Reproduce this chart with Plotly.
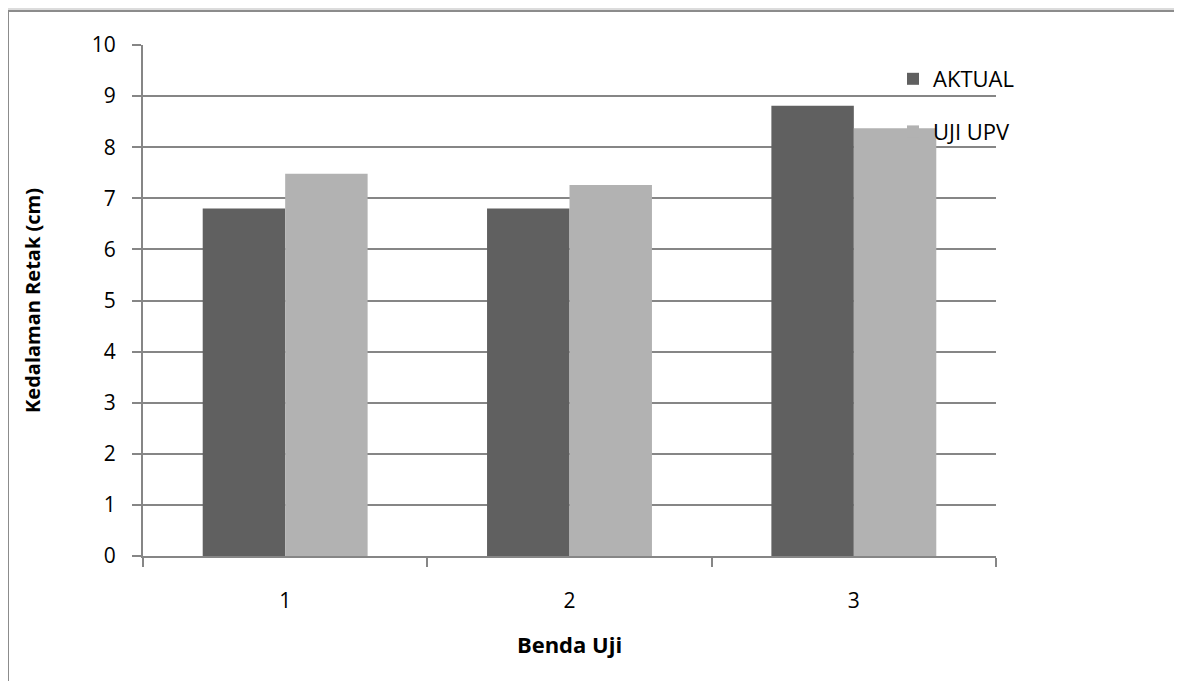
import plotly.graph_objects as go

categories = ["1", "2", "3"]
aktual = [6.8, 6.8, 8.81]
uji_upv = [7.48, 7.26, 8.37]
y_ticks = [0, 1, 2, 3, 4, 5, 6, 7, 8, 9, 10]

FONT = "Open Sans"
GRID = "#868686"
FS = 21

fig = go.Figure()
fig.add_trace(go.Bar(x=categories, y=aktual, name="AKTUAL",
                     marker=dict(color="#606060", line=dict(width=0)),
                     legendgroup="a"))
fig.add_trace(go.Bar(x=categories, y=uji_upv, name="UJI UPV",
                     marker=dict(color="#b2b2b2", line=dict(width=0)),
                     legendgroup="b"))

# page body has an 8px margin, so the figure starts at (8, 8) on screen
W, H = 1174, 673
L, T = 135, 37
pw, ph = 853, 511
R, B = W - L - pw, H - T - ph

fig.update_layout(
    width=W, height=H,
    margin=dict(l=L, r=R, t=T, b=B, autoexpand=False),
    paper_bgcolor="#dcdcdc",
    plot_bgcolor="white",
    barmode="group",
    bargap=0.42,
    bargroupgap=0,
    font=dict(family=FONT, size=FS, color="black"),
    showlegend=True,
    legend=dict(x=(885 - L) / pw, y=(T + ph - 50) / ph, xanchor="left", yanchor="top",
                bgcolor="rgba(0,0,0,0)", tracegroupgap=21,
                font=dict(family=FONT, size=22)),
    xaxis=dict(
        type="category",
        showline=True, linecolor=GRID, linewidth=2,
        ticks="outside", tickson="boundaries", ticklen=9, tickcolor=GRID, tickwidth=1.5,
        showgrid=False,
        ticklabelstandoff=25,
        title=dict(text="<b>Benda Uji</b>", font=dict(family=FONT, size=22), standoff=24),
    ),
    yaxis=dict(
        range=[0, 10], tickvals=y_ticks,
        showline=True, linecolor=GRID, linewidth=2,
        ticks="outside", ticklen=9, tickcolor=GRID, tickwidth=1.5,
        showgrid=True, gridcolor=GRID, gridwidth=2,
        zeroline=False,
        ticklabelstandoff=12,
        title=dict(text="<b>Kedalaman Retak (cm)</b>", font=dict(family=FONT, size=20), standoff=46),
    ),
    shapes=[dict(type="rect", xref="paper", yref="paper", layer="below",
                 x0=(0 - L) / pw, x1=(W + 20 - L) / pw,
                 y0=(T + ph - H - 20) / ph, y1=(T + ph - 3) / ph,
                 fillcolor="white", line=dict(color="#8c8c8c", width=2))],
)

fig.write_html("out.html")
